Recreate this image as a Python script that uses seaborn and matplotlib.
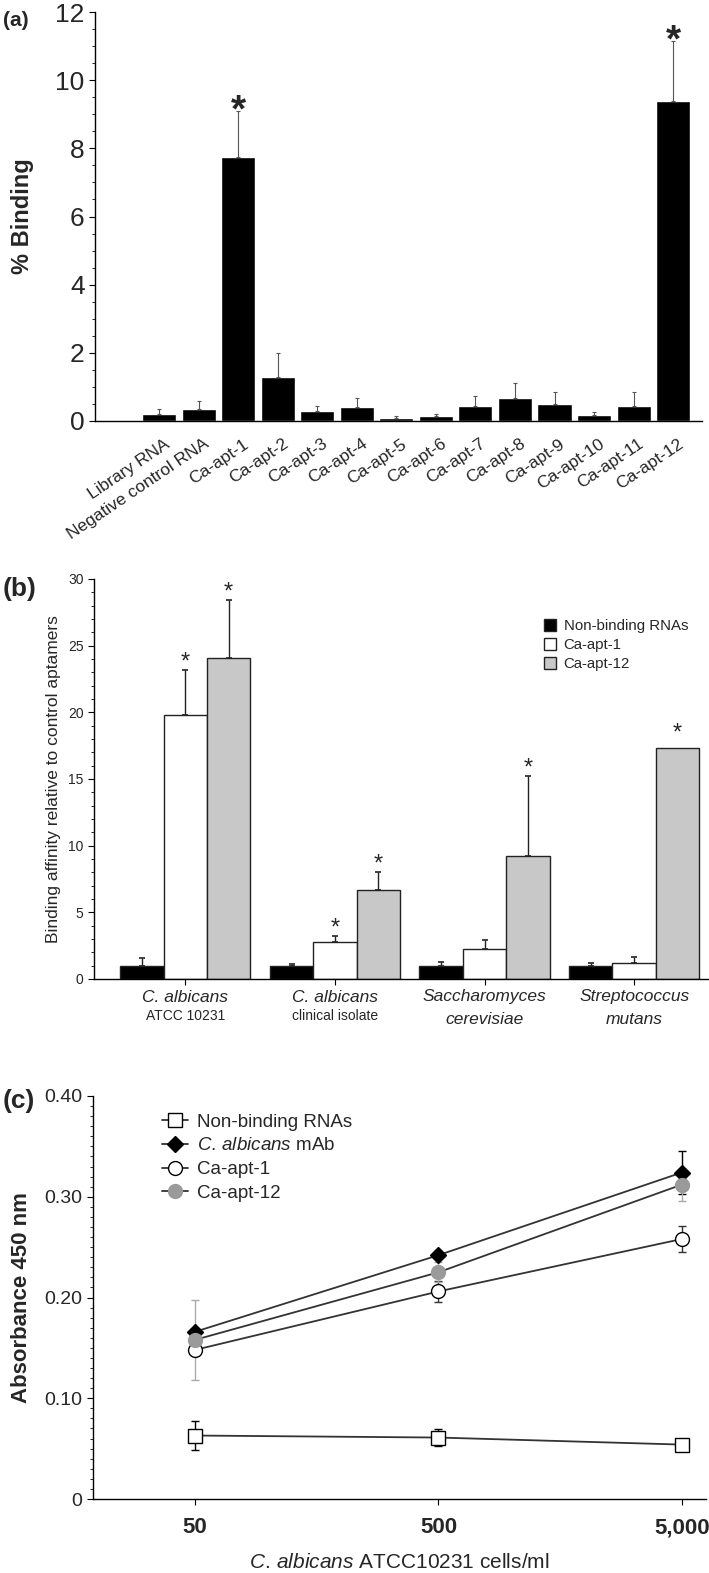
import matplotlib
matplotlib.use("Agg")
import matplotlib.pyplot as plt
import seaborn as sns
import pandas as pd
import numpy as np
from matplotlib import font_manager
from matplotlib.ticker import MultipleLocator
from matplotlib.lines import Line2D
from matplotlib.patches import Patch
from matplotlib.transforms import blended_transform_factory

# ---- données panneau (a) ----
aptameres_a = ["Library RNA", "Negative control RNA", "Ca-apt-1", "Ca-apt-2", "Ca-apt-3",
               "Ca-apt-4", "Ca-apt-5", "Ca-apt-6", "Ca-apt-7", "Ca-apt-8", "Ca-apt-9",
               "Ca-apt-10", "Ca-apt-11", "Ca-apt-12"]
binding_a = [0.2, 0.35, 7.75, 1.28, 0.3, 0.4, 0.1, 0.15, 0.45, 0.68, 0.5, 0.18, 0.45, 9.4]
err_a = [0.15, 0.23, 1.35, 0.72, 0.15, 0.28, 0.05, 0.07, 0.27, 0.44, 0.35, 0.07, 0.4, 1.75]
etoiles_a = ["Ca-apt-1", "Ca-apt-12"]

# ---- données panneau (b) ----
souches_b = ["C. albicans", "C. albicans", "Saccharomyces", "Streptococcus"]
souches_b_ligne2 = ["ATCC 10231", "clinical isolate", "cerevisiae", "mutans"]
series_b = ["Non-binding RNAs", "Ca-apt-1", "Ca-apt-12"]
nonbinding_b = [1.0, 1.0, 1.0, 1.0]
apt1_b = [19.8, 2.8, 2.25, 1.17]
apt12_b = [24.1, 6.7, 9.2, 17.35]
err_nonbinding_b = [0.6, 0.12, 0.28, 0.18]
err_apt1_b = [3.4, 0.4, 0.65, 0.5]
err_apt12_b = [4.3, 1.3, 6.0, 0.0]
etoiles_b = [(0, "Ca-apt-1"), (0, "Ca-apt-12"), (1, "Ca-apt-1"), (1, "Ca-apt-12"),
             (2, "Ca-apt-12"), (3, "Ca-apt-12")]

# ---- données panneau (c) ----
cellules_c = ["50", "500", "5,000"]
nonbinding_c = [0.063, 0.061, 0.054]
err_nonbinding_c = [0.014, 0.008, 0.0]
mab_c = [0.166, 0.242, 0.324]
err_mab_c = [0.0, 0.0, 0.021]
apt1_c = [0.148, 0.206, 0.258]
err_apt1_c = [0.004, 0.01, 0.013]
apt12_c = [0.158, 0.225, 0.312]
err_apt12_c = [0.04, 0.01, 0.016]

sns.set_style("ticks")
noms = {f.name for f in font_manager.fontManager.ttflist}
etroite = "Liberation Sans Narrow" if "Liberation Sans Narrow" in noms else "Liberation Sans"
plt.rcParams["font.family"] = ["Liberation Sans", "DejaVu Sans"]
plt.rcParams["mathtext.fontset"] = "custom"
plt.rcParams["mathtext.rm"] = "Liberation Sans"
plt.rcParams["mathtext.it"] = "Liberation Sans:italic"

fig = plt.figure(figsize=(7.09, 15.73), dpi=100)
W, H = 709, 1573


def rect(x0, x1, ytop, ybas):
    return [x0 / W, 1 - ybas / H, (x1 - x0) / W, (ybas - ytop) / H]


def style_axes(ax):
    sns.despine(ax=ax)
    for s in ["left", "bottom"]:
        ax.spines[s].set_linewidth(1.0)
        ax.spines[s].set_color("black")
    ax.tick_params(which="major", direction="out", length=4, width=0.8, color="black")
    ax.tick_params(which="minor", direction="out", length=2, width=0.6, color="black")


# ================= (a) =================
ax1 = fig.add_axes(rect(95, 702, 12, 421))
df_a = pd.DataFrame({"aptamere": aptameres_a, "binding": binding_a})
sns.barplot(data=df_a, x="aptamere", y="binding", color="black", width=0.86,
            errorbar=None, saturation=1, ax=ax1)
pos_a = np.arange(len(aptameres_a))
ax1.errorbar(pos_a, binding_a, yerr=[np.zeros(len(err_a)), err_a], fmt="none",
             ecolor="#555555", elinewidth=0.8, capsize=1.5, capthick=0.8)
for nom in etoiles_a:
    i = aptameres_a.index(nom)
    ax1.text(i, binding_a[i] + err_a[i] - 0.3, "*", ha="center", va="baseline",
             fontsize=28, fontweight="bold")
ax1.set_xlim(-1.62, 13.73)
ax1.set_ylim(0, 12)
ax1.yaxis.set_major_locator(MultipleLocator(2))
ax1.yaxis.set_minor_locator(MultipleLocator(0.5))
style_axes(ax1)
ax1.tick_params(axis="x", length=0, pad=11)
ax1.set_yticks([0, 2, 4, 6, 8, 10, 12])
ax1.set_yticklabels(["0", "2", "4", "6", "8", "10", "12"], family=etroite, fontsize=19)
ax1.set_xticks(pos_a + 0.12)
ax1.set_xticklabels(aptameres_a, rotation=34, ha="right", rotation_mode="anchor", fontsize=12.5)
ax1.set_xlabel("")
ax1.set_ylabel("% Binding", fontsize=17, fontweight="bold")
ax1.yaxis.set_label_coords(-0.1, 0.5)
fig.text(3 / W, 1 - 26 / H, "(a)", fontsize=15, fontweight="bold")

# ================= (b) =================
ax2 = fig.add_axes(rect(94, 709, 579, 979))
df_b = pd.DataFrame({
    "souche": np.repeat(np.arange(4), 3),
    "serie": series_b * 4,
    "valeur": [v for trio in zip(nonbinding_b, apt1_b, apt12_b) for v in trio],
})
couleurs_b = {"Non-binding RNAs": "black", "Ca-apt-1": "white", "Ca-apt-12": "#c8c8c8"}
sns.barplot(data=df_b, x="souche", y="valeur", hue="serie", hue_order=series_b,
            palette=couleurs_b, width=0.87, edgecolor="#222222", linewidth=1.0,
            errorbar=None, saturation=1, legend=False, ax=ax2)
largeur = 0.29
valeurs_b = {"Non-binding RNAs": nonbinding_b, "Ca-apt-1": apt1_b, "Ca-apt-12": apt12_b}
erreurs_b = {"Non-binding RNAs": err_nonbinding_b, "Ca-apt-1": err_apt1_b, "Ca-apt-12": err_apt12_b}
for k, serie in enumerate(series_b):
    x = np.arange(4) + (k - 1) * largeur
    e = np.array(erreurs_b[serie])
    m = e > 0
    ax2.errorbar(x[m], np.array(valeurs_b[serie])[m], yerr=[np.zeros(m.sum()), e[m]],
                 fmt="none", ecolor="#222222", elinewidth=1.0, capsize=2, capthick=1.2)
for g, serie in etoiles_b:
    k = series_b.index(serie)
    haut = valeurs_b[serie][g] + erreurs_b[serie][g]
    if erreurs_b[serie][g] == 0:
        haut += 0.5
    ax2.text(g + (k - 1) * largeur, haut + 0.1, "*", ha="center", va="baseline", fontsize=17)
ax2.set_xlim(-0.61, 3.5)
ax2.set_ylim(0, 30)
ax2.yaxis.set_major_locator(MultipleLocator(5))
ax2.yaxis.set_minor_locator(MultipleLocator(1))
style_axes(ax2)
ax2.set_xticks(range(4))
ax2.set_xticklabels([])
ax2.set_yticks([0, 5, 10, 15, 20, 25, 30])
ax2.set_yticklabels(["0", "5", "10", "15", "20", "25", "30"], family=etroite, fontsize=10)
ax2.set_xlabel("")
ax2.set_ylabel("Binding affinity relative to control aptamers", fontsize=12.5)
ax2.yaxis.set_label_coords(-0.054, 0.5)
trans = blended_transform_factory(ax2.transData, ax2.transAxes)
for g in range(4):
    ax2.text(g, -0.045, souches_b[g], transform=trans, ha="center", va="center",
             fontsize=12.5, style="italic")
    if g < 2:
        ax2.text(g, -0.093, souches_b_ligne2[g], transform=trans, ha="center", va="center",
                 fontsize=10)
    else:
        ax2.text(g, -0.1, souches_b_ligne2[g], transform=trans, ha="center", va="center",
                 fontsize=12.5, style="italic")
poignees_b = [Patch(facecolor=couleurs_b[s], edgecolor="#222222", linewidth=1.0) for s in series_b]
ax2.legend(poignees_b, series_b, loc="upper left", bbox_to_anchor=(0.722, 0.915), frameon=False,
           prop={"family": etroite, "size": 10.8}, handlelength=0.8, handleheight=0.9,
           handletextpad=0.5, labelspacing=0.3, borderaxespad=0)
fig.text(3 / W, 1 - 596 / H, "(b)", fontsize=19, fontweight="bold")

# ================= (c) =================
ax3 = fig.add_axes(rect(93, 706, 1096, 1499))
pos_c = np.arange(len(cellules_c))
series_c = [
    ("Non-binding RNAs", nonbinding_c, err_nonbinding_c, "s", "white", "black", "black"),
    (r"$\mathit{C.\,albicans}$ mAb", mab_c, err_mab_c, "D", "black", "black", "black"),
    ("Ca-apt-1", apt1_c, err_apt1_c, "o", "white", "black", "#333333"),
    ("Ca-apt-12", apt12_c, err_apt12_c, "o", "#9a9a9a", "#9a9a9a", "#aaaaaa"),
]
poignees_c = []
for nom, val, err, mk, fc, ec, errc in series_c:
    taille = 8.5 if mk == "D" else 10
    ax3.errorbar(pos_c, val, yerr=err, fmt="none", ecolor=errc, elinewidth=1.0,
                 capsize=3, capthick=1.0, zorder=2)
    sns.lineplot(x=pos_c, y=val, ax=ax3, color="#333333", linewidth=1.3, marker=mk,
                 markersize=taille, markerfacecolor=fc,
                 markeredgecolor=ec, markeredgewidth=1.0, zorder=3)
    poignees_c.append(Line2D([0], [0], color="#333333", linewidth=1.3, marker=mk,
                             markersize=taille, markerfacecolor=fc,
                             markeredgecolor=ec, markeredgewidth=1.0))
ax3.set_xlim(-0.42, 2.1)
ax3.set_ylim(0, 0.40)
ax3.yaxis.set_major_locator(MultipleLocator(0.1))
ax3.yaxis.set_minor_locator(MultipleLocator(0.01))
style_axes(ax3)
ax3.set_xticks(pos_c)
ax3.set_xticklabels(cellules_c, fontsize=16, fontweight="bold", family=etroite)
ax3.tick_params(axis="x", pad=9)
ax3.set_yticks([0, 0.1, 0.2, 0.3, 0.4])
ax3.set_yticklabels(["0", "0.10", "0.20", "0.30", "0.40"], fontsize=14)
ax3.set_xlabel(r"$\mathit{C.\,albicans}$ ATCC10231 cells/ml", fontsize=15, labelpad=11)
ax3.set_ylabel("Absorbance 450 nm", fontsize=16, fontweight="bold")
ax3.yaxis.set_label_coords(-0.1, 0.5)
ax3.legend(poignees_c, [s[0] for s in series_c], loc="upper left", bbox_to_anchor=(0.1, 0.975),
           frameon=False, fontsize=13.5, handlelength=1.4, handletextpad=0.5,
           labelspacing=0.35, borderaxespad=0)
fig.text(3 / W, 1 - 1108 / H, "(c)", fontsize=19, fontweight="bold")

fig.savefig("out.png", dpi=100)
